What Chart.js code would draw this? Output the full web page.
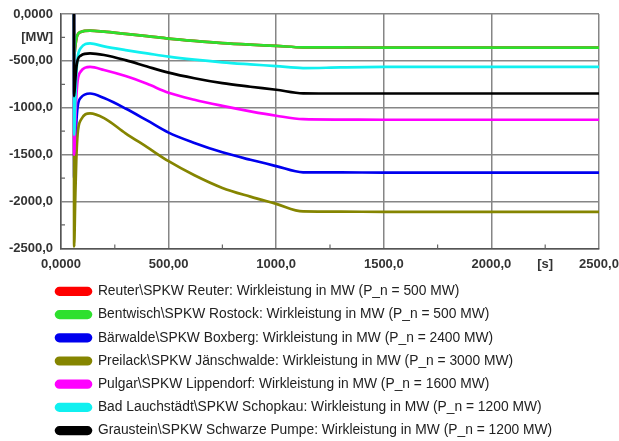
<!DOCTYPE html>
<html>
<head>
<meta charset="utf-8">
<script src="https://cdn.jsdelivr.net/npm/chart.js@4.4.1/dist/chart.umd.min.js"></script>
<style>
  html, body { margin: 0; padding: 0; background: #ffffff; }
  #wrap { width: 619px; height: 441px; position: relative; }
</style>
</head>
<body>
<div id="wrap"><canvas id="chart"></canvas></div>
<script>
// Time axis [s] of the sampled simulation output
const times = [60, 61, 66, 71, 77, 92, 135, 200, 300, 400, 500, 620, 750, 880, 1000, 1125, 1300, 1500, 2000, 2500];

// Active power [MW] per power plant
const reuter      = [0, -450, -354, -273, -221, -191, -177, -188, -212, -236, -262, -287, -310, -327, -340, -356, -357, -358, -358, -358];
const rostock     = [0, -450, -354, -273, -221, -191, -177, -188, -212, -236, -262, -287, -310, -327, -340, -356, -357, -358, -358, -358];
const boxberg     = [0, -1750, -1434, -1164, -992, -893, -848, -897, -1008, -1135, -1265, -1375, -1475, -1555, -1622, -1689, -1690, -1691, -1691, -1691];
const jaenschwalde = [0, -2480, -1983, -1557, -1287, -1131, -1060, -1110, -1272, -1420, -1570, -1720, -1855, -1948, -2025, -2106, -2108, -2110, -2110, -2110];
const lippendorf  = [0, -1500, -1173, -892, -715, -612, -565, -597, -662, -745, -840, -915, -980, -1038, -1085, -1122, -1126, -1128, -1128, -1128];
const schopkau    = [0, -1290, -948, -656, -470, -363, -314, -346, -385, -420, -455, -487, -515, -537, -556, -577, -570, -565, -564, -564];
const schwarzePumpe = [0, -876, -716, -580, -493, -443, -420, -437, -492, -560, -625, -685, -738, -776, -808, -846, -848, -848, -848, -848];

const seriesNames = [
  'Reuter\\SPKW Reuter: Wirkleistung in MW (P_n = 500 MW)',
  'Bentwisch\\SPKW Rostock: Wirkleistung in MW (P_n = 500 MW)',
  'Bärwalde\\SPKW Boxberg: Wirkleistung in MW (P_n = 2400 MW)',
  'Preilack\\SPKW Jänschwalde: Wirkleistung in MW (P_n = 3000 MW)',
  'Pulgar\\SPKW Lippendorf: Wirkleistung in MW (P_n = 1600 MW)',
  'Bad Lauchstädt\\SPKW Schopkau: Wirkleistung in MW (P_n = 1200 MW)',
  'Graustein\\SPKW Schwarze Pumpe: Wirkleistung in MW (P_n = 1200 MW)'
];
const seriesValues = [reuter, rostock, boxberg, jaenschwalde, lippendorf, schopkau, schwarzePumpe];
const seriesColors = ['#ff0000', '#2ee02e', '#0000ee', '#858500', '#ff00ff', '#10f0f0', '#000000'];

// Axis ranges and tick spacing
const xMin = 0, xMax = 2500, xStep = 250;
const yMin = -2500, yMax = 0, yStep = 250;
const xUnitLabel = '[s]', xUnitAt = 2250;
const yUnitLabel = '[MW]', yUnitAt = -250;

// 5 significant digits with decimal comma: 0,0000 / 500,00 / 1000,0
function fmt(v) {
  if (v === 0) return '0,0000';
  const digits = Math.floor(Math.log10(Math.abs(v))) + 1;
  return v.toFixed(Math.max(0, 5 - digits)).replace('.', ',');
}
const isMajor = (v) => Math.abs(v % 500) < 1e-9;

const datasets = seriesValues.map((vals, i) => ({
  label: seriesNames[i],
  data: times.map((t, k) => ({ x: t, y: vals[k] })),
  borderColor: seriesColors[i],
  backgroundColor: seriesColors[i],
  borderWidth: 2.7,
  pointRadius: 0,
  cubicInterpolationMode: 'monotone',
  order: seriesValues.length - i
}));

// short inner tick marks at the intermediate (non-labelled) steps
const minorTicks = {
  id: 'minorTicks',
  afterDatasetsDraw(chart) {
    const { ctx, chartArea, scales: { x, y } } = chart;
    ctx.save();
    ctx.strokeStyle = '#666';
    ctx.lineWidth = 1.2;
    ctx.beginPath();
    x.ticks.forEach(t => {
      if (isMajor(t.value)) return;
      const px = x.getPixelForValue(t.value);
      ctx.moveTo(px, chartArea.bottom);
      ctx.lineTo(px, chartArea.bottom - 4);
    });
    y.ticks.forEach(t => {
      if (isMajor(t.value)) return;
      const py = y.getPixelForValue(t.value);
      ctx.moveTo(chartArea.left, py);
      ctx.lineTo(chartArea.left + 4, py);
    });
    ctx.stroke();
    ctx.restore();
  }
};

// indent the legend column so it lines up under the plot
const legendIndent = {
  id: 'legendIndent',
  afterLayout(chart) {
    const lg = chart.legend;
    if (!lg) return;
    lg.left += 43.6;
    lg.right += 43.6;
  }
};

const tickFont = { family: "'Liberation Sans', Arial, sans-serif", size: 13, weight: 'bold' };
const gridColor = (c) => (c.tick && isMajor(c.tick.value)) ? '#868686' : 'rgba(0,0,0,0)';

new Chart(document.getElementById('chart'), {
  type: 'line',
  data: { datasets },
  plugins: [minorTicks, legendIndent],
  options: {
    responsive: true,
    maintainAspectRatio: false,
    animation: false,
    layout: { padding: { left: 3, right: 20, top: 14, bottom: -6.5 } },
    plugins: {
      tooltip: { enabled: false },
      legend: {
        position: 'bottom',
        align: 'start',
        labels: {
          sort: (a, b) => a.datasetIndex - b.datasetIndex,
          boxWidth: 35,
          boxHeight: 6.5,
          useBorderRadius: true,
          borderRadius: 3.5,
          padding: 9.4,
          color: '#222',
          font: { family: "'Liberation Sans', Arial, sans-serif", size: 13.8 }
        }
      }
    },
    scales: {
      x: {
        type: 'linear',
        min: xMin, max: xMax,
        afterFit: (s) => { s.height = 26.7; },
        border: { display: true, color: '#555', width: 1.5 },
        grid: {
          drawTicks: true,
          tickLength: 8.5,
          tickColor: 'rgba(0,0,0,0)',
          lineWidth: 1.5,
          color: gridColor
        },
        ticks: {
          stepSize: xStep,
          autoSkip: false,
          maxRotation: 0,
          padding: 0,
          color: '#333',
          font: tickFont,
          callback: (v) => v === xUnitAt ? xUnitLabel : (isMajor(v) ? fmt(v) : '')
        }
      },
      y: {
        type: 'linear',
        min: yMin, max: yMax,
        afterFit: (s) => { s.width = 58; },
        border: { display: true, color: '#555', width: 1.5 },
        grid: {
          drawTicks: true,
          tickLength: 8,
          tickColor: 'rgba(0,0,0,0)',
          lineWidth: 1.5,
          color: gridColor
        },
        ticks: {
          stepSize: yStep,
          autoSkip: false,
          padding: 0,
          color: '#333',
          font: tickFont,
          callback: (v) => v === yUnitAt ? yUnitLabel : (isMajor(v) ? fmt(v) : '')
        }
      }
    }
  }
});
</script>
</body>
</html>
